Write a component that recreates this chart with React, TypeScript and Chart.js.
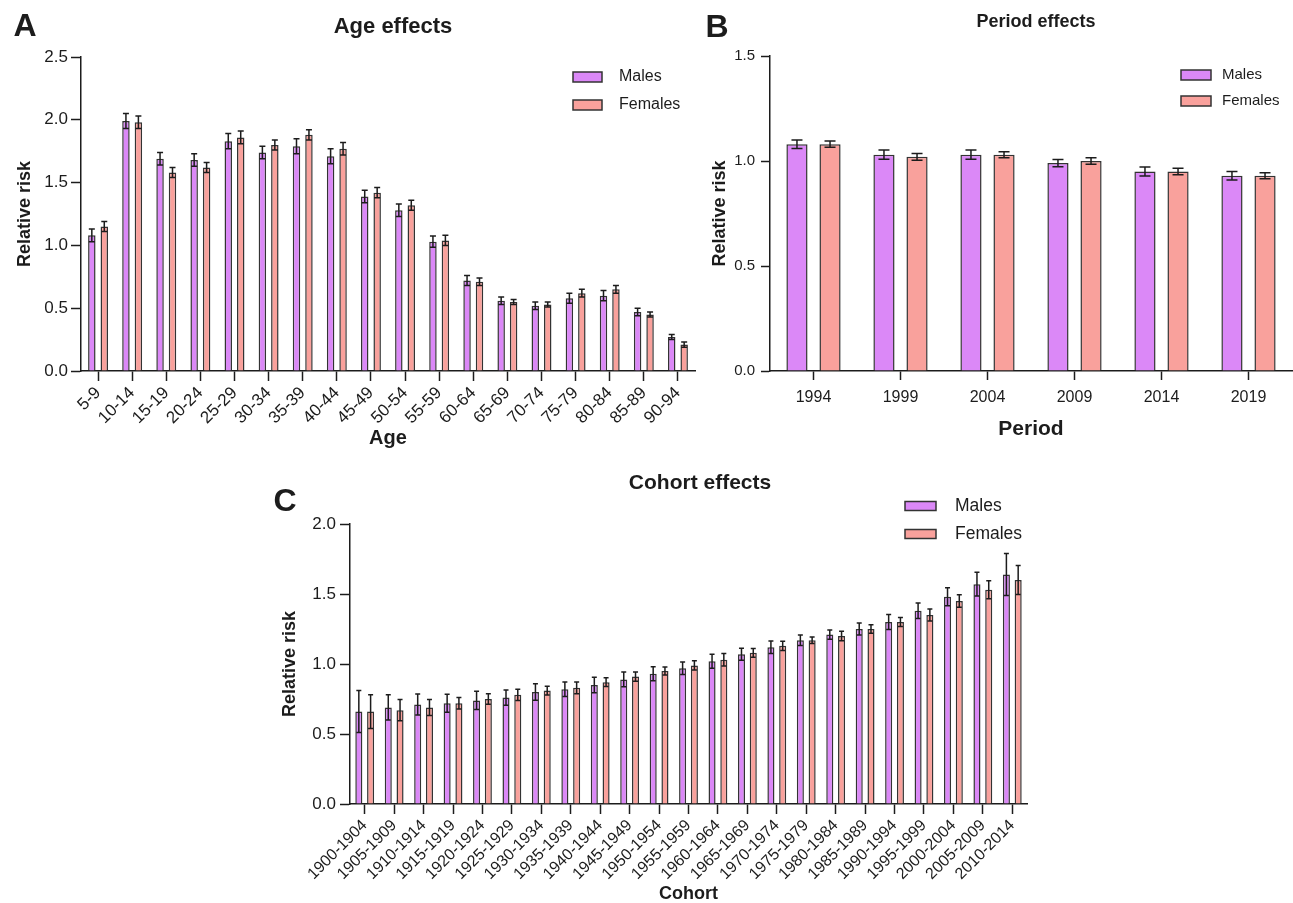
import React, { useEffect, useRef } from 'react';
import { Chart, registerables } from 'chart.js';

Chart.register(...registerables);

const FAMILY = "'Liberation Sans', Arial, Helvetica, sans-serif";
const MALE_COLOR = '#DB88F7';
const FEMALE_COLOR = '#F9A19C';
const EDGE = '#333333';
const INK = '#1c1c1c';

// ---------- Panel A: Age effects ----------
const ageLabels = ['5-9', '10-14', '15-19', '20-24', '25-29', '30-34', '35-39', '40-44', '45-49', '50-54', '55-59', '60-64', '65-69', '70-74', '75-79', '80-84', '85-89', '90-94'];
const ageMales = [1.08, 1.99, 1.69, 1.68, 1.83, 1.74, 1.79, 1.71, 1.39, 1.28, 1.03, 0.72, 0.56, 0.52, 0.58, 0.60, 0.47, 0.27];
const ageFemales = [1.15, 1.98, 1.58, 1.62, 1.86, 1.80, 1.88, 1.77, 1.42, 1.32, 1.04, 0.71, 0.55, 0.53, 0.62, 0.65, 0.45, 0.21];
const ageMalesErr = [0.05, 0.06, 0.05, 0.05, 0.06, 0.05, 0.06, 0.06, 0.05, 0.05, 0.045, 0.04, 0.03, 0.03, 0.04, 0.04, 0.03, 0.02];
const ageFemalesErr = [0.04, 0.05, 0.04, 0.04, 0.05, 0.04, 0.04, 0.05, 0.04, 0.04, 0.04, 0.03, 0.02, 0.02, 0.03, 0.03, 0.02, 0.02];

// ---------- Panel B: Period effects ----------
const periodLabels = ['1994', '1999', '2004', '2009', '2014', '2019'];
const periodMales = [1.08, 1.03, 1.03, 0.99, 0.95, 0.93];
const periodFemales = [1.08, 1.02, 1.03, 1.00, 0.95, 0.93];
const periodMalesErr = [0.02, 0.022, 0.022, 0.017, 0.021, 0.02];
const periodFemalesErr = [0.015, 0.016, 0.014, 0.016, 0.015, 0.014];

// ---------- Panel C: Cohort effects ----------
const cohortLabels = ['1900-1904', '1905-1909', '1910-1914', '1915-1919', '1920-1924', '1925-1929', '1930-1934', '1935-1939', '1940-1944', '1945-1949', '1950-1954', '1955-1959', '1960-1964', '1965-1969', '1970-1974', '1975-1979', '1980-1984', '1985-1989', '1990-1994', '1995-1999', '2000-2004', '2005-2009', '2010-2014'];
const cohortMales = [0.66, 0.69, 0.71, 0.72, 0.74, 0.76, 0.80, 0.82, 0.85, 0.89, 0.93, 0.97, 1.02, 1.07, 1.12, 1.17, 1.21, 1.25, 1.30, 1.38, 1.48, 1.57, 1.64];
const cohortFemales = [0.66, 0.67, 0.69, 0.72, 0.75, 0.78, 0.81, 0.83, 0.87, 0.91, 0.95, 0.99, 1.03, 1.08, 1.13, 1.17, 1.20, 1.25, 1.30, 1.35, 1.45, 1.53, 1.60];
const cohortMalesErr = [0.15, 0.09, 0.075, 0.064, 0.065, 0.054, 0.059, 0.052, 0.055, 0.052, 0.05, 0.045, 0.05, 0.043, 0.045, 0.038, 0.033, 0.043, 0.054, 0.055, 0.064, 0.085, 0.15];
const cohortFemalesErr = [0.12, 0.076, 0.057, 0.041, 0.038, 0.04, 0.031, 0.042, 0.031, 0.033, 0.028, 0.033, 0.045, 0.031, 0.033, 0.023, 0.034, 0.031, 0.033, 0.043, 0.045, 0.064, 0.104];

type TextItem = { text: string; x: number; y: number; font: string };
type LegendSpec = { x: number; y: number; gap: number; boxW: number; boxH: number; textX: number; font: string };

const makeErrorBarPlugin = (errors: number[][], cap: number) => ({
  id: 'errorBars',
  afterDatasetsDraw(chart: any) {
    const ctx = chart.ctx;
    const yScale = chart.scales.y;
    ctx.save();
    ctx.strokeStyle = INK;
    ctx.lineWidth = 1.5;
    chart.data.datasets.forEach((ds: any, i: number) => {
      const meta = chart.getDatasetMeta(i);
      const e = errors[i];
      meta.data.forEach((bar: any, j: number) => {
        const v = ds.data[j];
        const x = bar.x;
        const yt = yScale.getPixelForValue(v + e[j]);
        const yb = yScale.getPixelForValue(v - e[j]);
        const h = cap / 2;
        ctx.beginPath();
        ctx.moveTo(x, yt);
        ctx.lineTo(x, yb);
        ctx.moveTo(x - h, yt);
        ctx.lineTo(x + h, yt);
        ctx.moveTo(x - h, yb);
        ctx.lineTo(x + h, yb);
        ctx.stroke();
      });
    });
    ctx.restore();
  },
});

const makeDecorPlugin = (texts: TextItem[], legend: LegendSpec) => ({
  id: 'decor',
  afterDraw(chart: any) {
    const ctx = chart.ctx;
    ctx.save();
    texts.forEach((t) => {
      ctx.font = t.font;
      ctx.fillStyle = INK;
      ctx.textAlign = 'center';
      ctx.textBaseline = 'middle';
      ctx.fillText(t.text, t.x, t.y);
    });
    chart.data.datasets.forEach((ds: any, k: number) => {
      const cy = legend.y + k * legend.gap;
      ctx.fillStyle = ds.backgroundColor;
      ctx.fillRect(legend.x, cy - legend.boxH / 2, legend.boxW, legend.boxH);
      ctx.strokeStyle = EDGE;
      ctx.lineWidth = 1.5;
      ctx.strokeRect(legend.x, cy - legend.boxH / 2, legend.boxW, legend.boxH);
      ctx.fillStyle = INK;
      ctx.font = legend.font;
      ctx.textAlign = 'left';
      ctx.textBaseline = 'middle';
      ctx.fillText(ds.label, legend.textX, cy);
    });
    ctx.restore();
  },
});

type PanelParams = {
  labels: string[];
  males: number[];
  females: number[];
  malesErr: number[];
  femalesErr: number[];
  cap: number;
  catPct: number;
  barPct: number;
  yMax: number;
  yStep: number;
  padding: { left: number; right: number; top: number; bottom: number };
  yAxisWidth: number;
  xAxisHeight: number;
  xRotation: number;
  xTickFont: number;
  xTickPad: number;
  yTickFont: number;
  yTickPad: number;
  tickLen: number;
  xTitle: string;
  xTitleFont: number;
  xTitleLineHeight: number;
  xTitlePad: number;
  yTitlePad: number;
  texts: TextItem[];
  legend: LegendSpec;
};

const buildConfig = (p: PanelParams): any => ({
  type: 'bar',
  data: {
    labels: p.labels,
    datasets: [
      {
        label: 'Males',
        data: p.males,
        backgroundColor: MALE_COLOR,
        borderColor: EDGE,
        borderWidth: 1.5,
        categoryPercentage: p.catPct,
        barPercentage: p.barPct,
      },
      {
        label: 'Females',
        data: p.females,
        backgroundColor: FEMALE_COLOR,
        borderColor: EDGE,
        borderWidth: 1.5,
        categoryPercentage: p.catPct,
        barPercentage: p.barPct,
      },
    ],
  },
  options: {
    responsive: false,
    animation: false,
    devicePixelRatio: 1,
    layout: { padding: p.padding },
    plugins: {
      legend: { display: false },
      title: { display: false },
      tooltip: { enabled: false },
    },
    scales: {
      x: {
        type: 'category',
        offset: true,
        grid: {
          display: true,
          drawOnChartArea: false,
          offset: false,
          drawTicks: true,
          tickLength: p.tickLen,
          tickColor: INK,
          tickWidth: 1.5,
        },
        border: { display: true, color: INK, width: 1.5 },
        ticks: {
          color: INK,
          font: { family: FAMILY, size: p.xTickFont },
          maxRotation: p.xRotation,
          minRotation: p.xRotation,
          autoSkip: false,
          padding: p.xTickPad,
        },
        title: {
          display: true,
          text: p.xTitle,
          color: INK,
          font: { family: FAMILY, size: p.xTitleFont, weight: 'bold', lineHeight: p.xTitleLineHeight },
          padding: { top: 0, bottom: p.xTitlePad },
        },
        afterFit: (s: any) => {
          s.height = p.xAxisHeight;
        },
      },
      y: {
        min: 0,
        max: p.yMax,
        grid: {
          display: true,
          drawOnChartArea: false,
          drawTicks: true,
          tickLength: p.tickLen,
          tickColor: INK,
          tickWidth: 1.5,
        },
        border: { display: true, color: INK, width: 1.5 },
        ticks: {
          stepSize: p.yStep,
          color: INK,
          font: { family: FAMILY, size: p.yTickFont },
          padding: p.yTickPad,
          callback: (v: any) => Number(v).toFixed(1),
        },
        title: {
          display: true,
          text: 'Relative risk',
          color: INK,
          font: { family: FAMILY, size: 18, weight: 'bold' },
          padding: { top: p.yTitlePad, bottom: 0 },
        },
        afterFit: (s: any) => {
          s.width = p.yAxisWidth;
        },
      },
    },
  },
  plugins: [makeErrorBarPlugin([p.malesErr, p.femalesErr], p.cap), makeDecorPlugin(p.texts, p.legend)],
});

const panelA: PanelParams = {
  labels: ageLabels,
  males: ageMales,
  females: ageFemales,
  malesErr: ageMalesErr,
  femalesErr: ageFemalesErr,
  cap: 6,
  catPct: 0.73,
  barPct: 0.6,
  yMax: 2.5,
  yStep: 0.5,
  padding: { left: 0, right: 5, top: 57, bottom: 0 },
  yAxisWidth: 81,
  xAxisHeight: 89,
  xRotation: 45,
  xTickFont: 17,
  xTickPad: 2,
  yTickFont: 17,
  yTickPad: 3,
  tickLen: 10,
  xTitle: 'Age',
  xTitleFont: 20,
  xTitleLineHeight: 1.2,
  xTitlePad: 10,
  yTitlePad: 14,
  texts: [
    { text: 'A', x: 25, y: 27, font: `bold 32px ${FAMILY}` },
    { text: 'Age effects', x: 393, y: 27, font: `bold 22px ${FAMILY}` },
  ],
  legend: { x: 573, y: 77, gap: 28, boxW: 29, boxH: 10, textX: 619, font: `16px ${FAMILY}` },
};

const panelB: PanelParams = {
  labels: periodLabels,
  males: periodMales,
  females: periodFemales,
  malesErr: periodMalesErr,
  femalesErr: periodFemalesErr,
  cap: 11,
  catPct: 0.76,
  barPct: 0.64,
  yMax: 1.5,
  yStep: 0.5,
  padding: { left: 0, right: 1, top: 56, bottom: 0 },
  yAxisWidth: 70,
  xAxisHeight: 89,
  xRotation: 0,
  xTickFont: 16,
  xTickPad: 8,
  yTickFont: 15,
  yTickPad: 6,
  tickLen: 9,
  xTitle: 'Period',
  xTitleFont: 21,
  xTitleLineHeight: 1.2,
  xTitlePad: 18,
  yTitlePad: 9,
  texts: [
    { text: 'B', x: 17, y: 28, font: `bold 32px ${FAMILY}` },
    { text: 'Period effects', x: 336, y: 22, font: `bold 18px ${FAMILY}` },
  ],
  legend: { x: 481, y: 75, gap: 26, boxW: 30, boxH: 10, textX: 522, font: `15px ${FAMILY}` },
};

const panelC: PanelParams = {
  labels: cohortLabels,
  males: cohortMales,
  females: cohortFemales,
  malesErr: cohortMalesErr,
  femalesErr: cohortFemalesErr,
  cap: 5,
  catPct: 0.8,
  barPct: 0.6,
  yMax: 2.0,
  yStep: 0.5,
  padding: { left: 0, right: 23, top: 54, bottom: 0 },
  yAxisWidth: 80,
  xAxisHeight: 99,
  xRotation: 45,
  xTickFont: 16,
  xTickPad: 2,
  yTickFont: 17,
  yTickPad: 4,
  tickLen: 10,
  xTitle: 'Cohort',
  xTitleFont: 18,
  xTitleLineHeight: 1,
  xTitlePad: 0,
  yTitlePad: 9,
  texts: [
    { text: 'C', x: 15, y: 32, font: `bold 32px ${FAMILY}` },
    { text: 'Cohort effects', x: 430, y: 13, font: `bold 21px ${FAMILY}` },
  ],
  legend: { x: 635, y: 36, gap: 28, boxW: 31, boxH: 9, textX: 685, font: `17.5px ${FAMILY}` },
};

function PanelChart({ params, left, top, width, height }: { params: PanelParams; left: number; top: number; width: number; height: number }) {
  const ref = useRef<HTMLCanvasElement>(null);
  useEffect(() => {
    const chart = new Chart(ref.current as HTMLCanvasElement, buildConfig(params));
    return () => chart.destroy();
  }, [params]);
  return (
    <div style={{ position: 'absolute', left, top, width, height }}>
      <canvas ref={ref} width={width} height={height} style={{ width, height, display: 'block' }} />
    </div>
  );
}

export default function App() {
  return (
    <div style={{ position: 'absolute', left: 0, top: 0, width: 1293, height: 903, background: '#ffffff', overflow: 'hidden' }}>
      <PanelChart params={panelA} left={0} top={0} width={700} height={460} />
      <PanelChart params={panelB} left={700} top={0} width={593} height={460} />
      <PanelChart params={panelC} left={270} top={470} width={780} height={433} />
    </div>
  );
}
